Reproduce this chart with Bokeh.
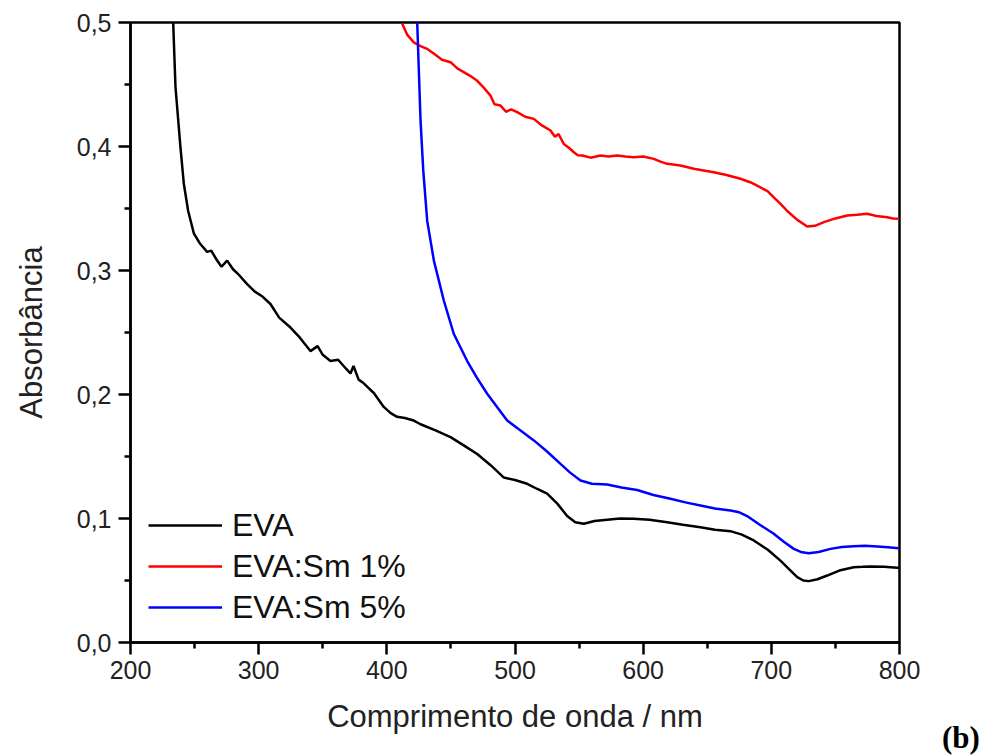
from bokeh.plotting import figure
from bokeh.models import Legend, LegendItem, FixedTicker, Div
from bokeh.layouts import row
from bokeh.embed import file_html
from bokeh.resources import INLINE

# EVA (black)
eva_x = [233.3, 235.1, 239.0, 241.6, 245.0, 249.4, 254.0, 259.8, 263.0, 267.6, 271.0, 275.4, 280.0,
         285.0, 291.0, 297.0, 303.0, 309.2, 316.0, 324.8, 332.0, 340.4, 346.0, 350.0, 356.0,
         362.0, 368.0, 371.6, 374.0, 378.0, 382.0, 390.0, 397.6, 403.0, 408.0, 414.0, 421.0,
         426.3, 438.0, 449.7, 460.0, 470.5, 481.0, 491.3, 500.0, 509.5, 517.0, 525.1, 533.0,
         540.7, 547.0, 553.7, 562.0, 571.9, 582.0, 592.7, 605.0, 618.7, 631.0, 644.7, 656.0,
         668.1, 677.0, 686.3, 697.0, 707.1, 714.0, 720.2, 725.0, 729.2, 736.0, 743.6, 753.0,
         764.3, 771.0, 777.4, 788.0, 798.2, 800.0]
eva_y = [0.500, 0.448, 0.399, 0.370, 0.348, 0.330, 0.322, 0.315, 0.316, 0.308, 0.303, 0.308, 0.301,
         0.296, 0.289, 0.283, 0.279, 0.273, 0.262, 0.254, 0.246, 0.235, 0.239, 0.232, 0.227,
         0.228, 0.221, 0.217, 0.223, 0.212, 0.209, 0.201, 0.190, 0.185, 0.182, 0.181, 0.179,
         0.176, 0.171, 0.1656, 0.159, 0.152, 0.143, 0.133, 0.131, 0.128, 0.124, 0.120, 0.112,
         0.102, 0.097, 0.0957, 0.098, 0.099, 0.100, 0.0997, 0.099, 0.097, 0.095, 0.093, 0.091,
         0.0898, 0.087, 0.0823, 0.075, 0.066, 0.059, 0.0527, 0.050, 0.0495, 0.051, 0.054, 0.058,
         0.0607, 0.061, 0.0613, 0.061, 0.0602, 0.060]

# EVA:Sm 1% (red)
sm1_x = [412.0, 416.0, 421.0, 426.3, 431.0, 436.6, 443.0, 449.7, 455.0, 460.0, 465.0, 470.5,
         476.0, 480.9, 484.0, 488.7, 493.0, 497.0, 501.7, 508.0, 514.7, 521.0, 527.7, 531.0,
         534.0, 538.1, 542.0, 545.9, 549.0, 552.4, 559.0, 566.7, 573.0, 579.7, 586.0, 592.7,
         600.0, 608.3, 613.0, 618.7, 629.1, 639.5, 645.0, 655.1, 665.0, 675.9, 684.0, 691.5,
         697.0, 701.9, 707.0, 712.4, 720.0, 728.0, 734.0, 741.0, 750.0, 759.2, 767.0, 774.8,
         782.0, 790.4, 795.0, 799.4]
sm1_y = [0.499, 0.490, 0.484, 0.481, 0.479, 0.475, 0.470, 0.468, 0.463, 0.460, 0.457, 0.453,
         0.447, 0.441, 0.434, 0.433, 0.428, 0.430, 0.4277, 0.424, 0.4223, 0.417, 0.4129, 0.408,
         0.410, 0.402, 0.399, 0.3954, 0.393, 0.3927, 0.391, 0.3927, 0.392, 0.3927, 0.392, 0.3914,
         0.392, 0.390, 0.388, 0.386, 0.3847, 0.382, 0.381, 0.3793, 0.377, 0.374, 0.371, 0.367,
         0.364, 0.359, 0.354, 0.348, 0.341, 0.3355, 0.336, 0.339, 0.342, 0.3444, 0.345, 0.3457,
         0.344, 0.343, 0.342, 0.3417]

# EVA:Sm 5% (blue)
sm5_x = [423.7, 426.3, 428.4, 431.5, 436.7, 444.4, 452.2, 462.7, 470.0, 478.3, 486.0, 493.9,
         503.0, 514.7, 525.0, 535.5, 543.0, 551.1, 560.0, 571.9, 583.0, 595.3, 608.0, 621.3,
         633.0, 644.7, 656.0, 668.1, 675.0, 681.1, 691.0, 701.9, 710.0, 717.5, 723.0, 729.2,
         737.0, 746.1, 755.0, 764.3, 773.0, 782.6, 791.0, 799.4]
sm5_y = [0.500, 0.421, 0.381, 0.340, 0.308, 0.276, 0.249, 0.227, 0.214, 0.2006, 0.190, 0.179,
         0.172, 0.163, 0.154, 0.144, 0.137, 0.1306, 0.128, 0.1274, 0.125, 0.123, 0.119, 0.1159,
         0.113, 0.1105, 0.108, 0.1065, 0.105, 0.102, 0.095, 0.0877, 0.081, 0.0755, 0.073, 0.072,
         0.073, 0.0755, 0.077, 0.0777, 0.078, 0.0774, 0.0768, 0.076]

series_names = ["EVA", "EVA:Sm 1%", "EVA:Sm 5%"]
series_colors = ["black", "#ff0000", "#0000ff"]

x_ticks = [200, 300, 400, 500, 600, 700, 800]
y_ticks = [0.0, 0.1, 0.2, 0.3, 0.4, 0.5]
y_tick_labels = ["0,0", "0,1", "0,2", "0,3", "0,4", "0,5"]

FONT = "Liberation Sans"

p = figure(width=930, height=755, x_range=(200, 800), y_range=(0, 0.5),
           output_backend="svg", toolbar_location=None,
           min_border_left=130, min_border_right=31, min_border_top=22, min_border_bottom=113)
p.grid.visible = False
p.outline_line_color = "black"
p.outline_line_width = 2.5
p.background_fill_color = "white"
p.border_fill_color = "white"

renderers = []
for xs, ys, c in [(eva_x, eva_y, series_colors[0]), (sm1_x, sm1_y, series_colors[1]), (sm5_x, sm5_y, series_colors[2])]:
    renderers.append(p.line(xs, ys, line_color=c, line_width=2.5))

for ax in (p.xaxis[0], p.yaxis[0]):
    ax.axis_line_width = 2.5
    ax.axis_line_color = "black"
    ax.major_tick_line_width = 2.5
    ax.minor_tick_line_width = 2.5
    ax.major_tick_out = 12
    ax.major_tick_in = 0
    ax.minor_tick_out = 6
    ax.minor_tick_in = 0
    ax.major_label_text_font = FONT
    ax.major_label_text_font_size = "25px"
    ax.major_label_text_color = "#222222"
    ax.axis_label_text_font = FONT
    ax.axis_label_text_font_size = "31px"
    ax.axis_label_text_font_style = "normal"
    ax.axis_label_text_color = "#222222"

p.xaxis[0].ticker = FixedTicker(ticks=x_ticks, minor_ticks=[250, 350, 450, 550, 650, 750])
p.yaxis[0].ticker = FixedTicker(ticks=y_ticks, minor_ticks=[0.05, 0.15, 0.25, 0.35, 0.45])
p.yaxis[0].major_label_overrides = {t: l for t, l in zip(y_ticks, y_tick_labels)}
p.xaxis[0].axis_label = "Comprimento de onda / nm"
p.yaxis[0].axis_label = "Absorbância"
p.xaxis[0].major_label_standoff = 6
p.yaxis[0].major_label_standoff = 7
p.xaxis[0].axis_label_standoff = 17
p.yaxis[0].axis_label_standoff = 25

legend = Legend(items=[LegendItem(label=n, renderers=[r]) for n, r in zip(series_names, renderers)],
                location=(18, 15), padding=5, spacing=1, glyph_width=74, glyph_height=40,
                label_standoff=10, label_text_font=FONT, label_text_font_size="32px",
                label_text_color="#111111", border_line_color=None, background_fill_alpha=0)
p.add_layout(legend, "center")

panel_tag = Div(text="(b)", width=52, height=755,
                styles={"padding-top": "716px", "padding-left": "7px",
                        "font-family": "Liberation Serif", "font-weight": "bold",
                        "font-size": "31px", "color": "black", "background": "white",
                        "line-height": "1.1", "box-sizing": "border-box"})

layout = row(p, panel_tag, spacing=0)

open("out.html", "w").write(file_html(layout, INLINE))
